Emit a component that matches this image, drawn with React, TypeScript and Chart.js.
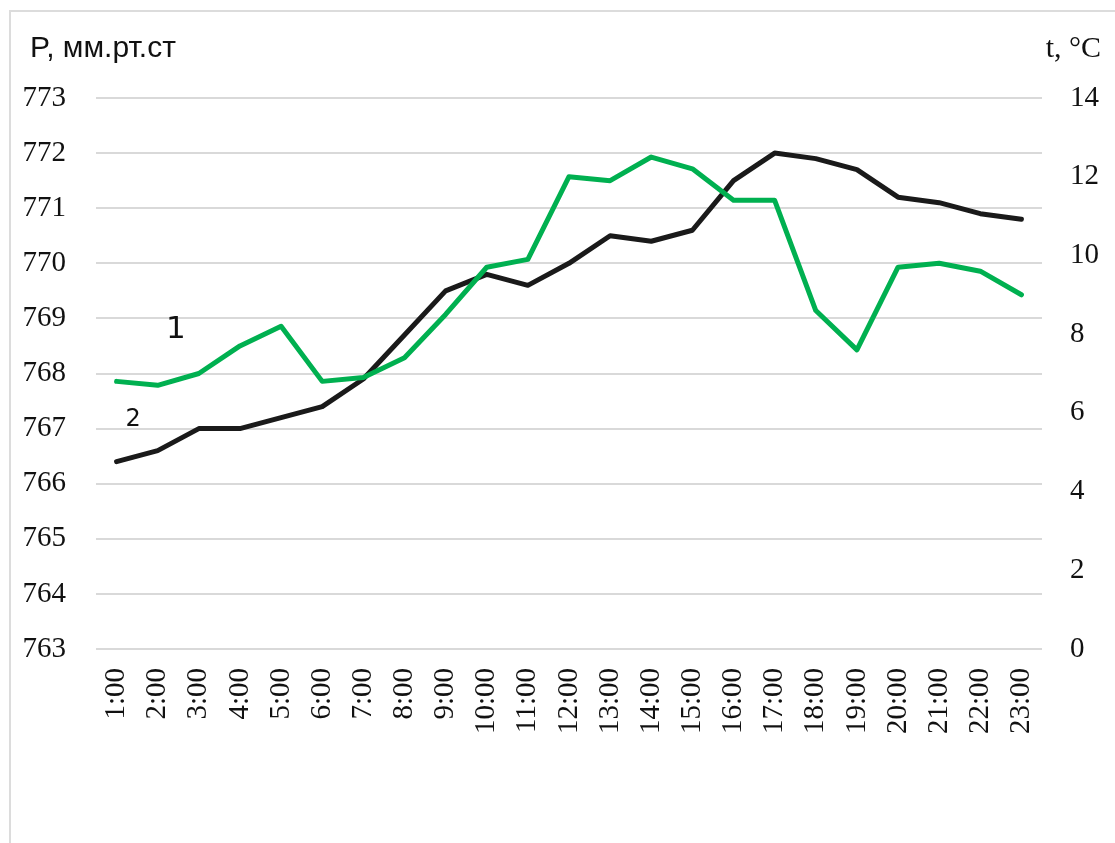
import React, { useEffect, useRef } from "react";
import { Chart, registerables } from "chart.js";

Chart.register(...registerables);

const hours = [
  "1:00", "2:00", "3:00", "4:00", "5:00", "6:00", "7:00", "8:00", "9:00", "10:00",
  "11:00", "12:00", "13:00", "14:00", "15:00", "16:00", "17:00", "18:00", "19:00",
  "20:00", "21:00", "22:00", "23:00",
];

const pressure = [
  766.4, 766.6, 767.0, 767.0, 767.2, 767.4, 767.9, 768.7, 769.5, 769.8, 769.6, 770.0,
  770.5, 770.4, 770.6, 771.5, 772.0, 771.9, 771.7, 771.2, 771.1, 770.9, 770.8,
];

const temperature = [
  6.8, 6.7, 7.0, 7.7, 8.2, 6.8, 6.9, 7.4, 8.5, 9.7, 9.9, 12.0, 11.9, 12.5, 12.2, 11.4,
  11.4, 8.6, 7.6, 9.7, 9.8, 9.6, 9.0,
];

const pressureTicks = { min: 763, max: 773, step: 1 };
const temperatureTicks = { min: 0, max: 14, step: 2 };

const leftTitle = "P, мм.рт.ст";
const rightTitle = "t, °C";

// curve labels: [text, category position, pressure-axis value, font size]
const curveLabels: [string, number, number, number][] = [
  ["1", 1.44, 768.79, 31],
  ["2", 0.4, 767.16, 24],
];

export default function App() {
  const ref = useRef<HTMLCanvasElement | null>(null);

  useEffect(() => {
    if (!ref.current) return;
    const textPlugin = {
      id: "texts",
      afterDraw(chart: any) {
        const ctx = chart.ctx;
        ctx.save();
        ctx.fillStyle = "#111";
        ctx.textBaseline = "alphabetic";
        ctx.font = "30px 'Liberation Sans'";
        ctx.textAlign = "left";
        ctx.fillText(leftTitle, 30, 57);
        ctx.font = "30px 'Liberation Serif'";
        ctx.textAlign = "right";
        ctx.fillText(rightTitle, 1101, 57);
        const xs = chart.scales.x;
        const ys = chart.scales.y;
        ctx.textAlign = "center";
        ctx.textBaseline = "middle";
        for (const [t, xi, yv, size] of curveLabels) {
          ctx.font = `${size}px 'DejaVu Sans'`;
          ctx.fillText(t, xs.getPixelForValue(xi), ys.getPixelForValue(yv));
        }
        ctx.restore();
      },
    };

    const tickFont = { family: "'Liberation Serif'", size: 29 };

    const chart = new Chart(ref.current, {
      type: "line",
      data: {
        labels: hours,
        datasets: [
          {
            label: "t",
            data: temperature,
            yAxisID: "y1",
            borderColor: "#00b050",
            borderWidth: 5,
            pointRadius: 0,
            tension: 0,
            borderJoinStyle: "round",
            borderCapStyle: "round",
          },
          {
            label: "P",
            data: pressure,
            yAxisID: "y",
            borderColor: "#1a1a1a",
            borderWidth: 5,
            pointRadius: 0,
            tension: 0,
            borderJoinStyle: "round",
            borderCapStyle: "round",
          },
        ],
      },
      options: {
        animation: false,
        responsive: false,
        layout: { padding: { top: 98, left: 0, right: 0, bottom: 0 } },
        plugins: { legend: { display: false }, tooltip: { enabled: false } },
        scales: {
          x: {
            offset: true,
            grid: { display: false, drawTicks: false },
            border: { display: false },
            ticks: {
              autoSkip: false,
              maxRotation: 90,
              minRotation: 90,
              padding: 19,
              color: "#111",
              font: tickFont,
            },
            afterFit(scale: any) {
              scale.height = 194;
            },
          },
          y: {
            position: "left",
            min: pressureTicks.min,
            max: pressureTicks.max,
            ticks: {
              stepSize: pressureTicks.step,
              padding: 30,
              color: "#111",
              font: tickFont,
            },
            grid: { color: "#d9d9d9", lineWidth: 2, drawTicks: false },
            border: { display: false },
            afterFit(scale: any) {
              scale.width = 96;
            },
          },
          y1: {
            position: "right",
            min: temperatureTicks.min,
            max: temperatureTicks.max,
            ticks: {
              stepSize: temperatureTicks.step,
              padding: 28,
              color: "#111",
              font: tickFont,
            },
            grid: { drawOnChartArea: false, drawTicks: false },
            border: { display: false },
            afterFit(scale: any) {
              scale.width = 73;
            },
          },
        },
      },
      plugins: [textPlugin],
    });
    return () => chart.destroy();
  }, []);

  return (
    <div
      style={{
        position: "fixed",
        left: 0,
        top: 0,
        width: 1115,
        height: 843,
        overflow: "hidden",
        background: "#fff",
      }}
    >
      <div
        style={{
          position: "absolute",
          left: 9,
          top: 10,
          width: 1300,
          height: 1000,
          border: "2px solid #dcdcdc",
        }}
      />
      <canvas
        ref={ref}
        width={1115}
        height={843}
        style={{ position: "absolute", left: 0, top: 0, width: 1115, height: 843 }}
      />
    </div>
  );
}
